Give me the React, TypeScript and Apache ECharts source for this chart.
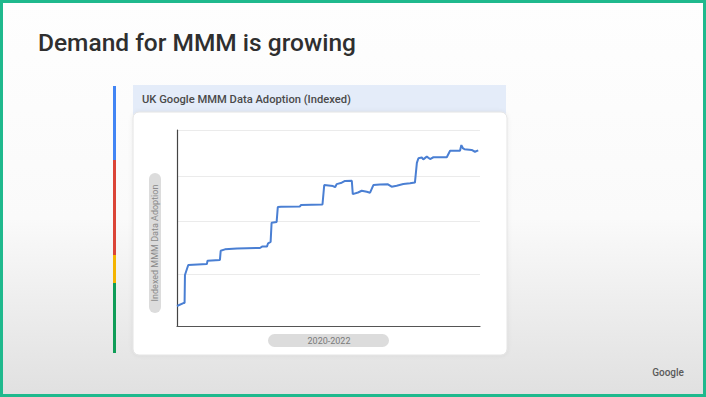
import React, { useEffect, useRef } from "react";
import * as echarts from "echarts";

const slideTitle = "Demand for MMM is growing";
const chartTitle = "UK Google MMM Data Adoption (Indexed)";
const yAxisName = "Indexed MMM Data Adoption";
const xAxisName = "2020-2022";
const footerBrand = "Google";

// week index over 2020-2022 (0..156)
const weeks = [0, 3.3, 3.9, 4.1, 5.8, 15.4, 15.7, 22.1, 22.5, 24.7, 30.9, 42.7, 43.8, 46.3, 46.9, 48.2, 48.7, 51.3, 51.9, 53.6, 63.3, 63.8, 74.9, 75.8, 80.3, 81.4, 82.2, 84.8, 86.5, 90.0, 90.5, 93.2, 95.1, 97.7, 99.4, 101.1, 104.5, 108.6, 110.5, 113.1, 116.5, 120.0, 122.5, 123.5, 124.3, 126.0, 126.8, 128.6, 130.3, 132.0, 138.9, 140.6, 145.7, 146.4, 147.3, 148.0, 151.7, 153.4, 155.1];
// indexed adoption
const adoption = [10.2, 11.7, 11.7, 26.0, 31.1, 31.6, 33.3, 33.7, 38.4, 39.1, 39.6, 39.8, 40.5, 40.5, 42.2, 42.9, 52.7, 53.1, 60.7, 60.9, 61.0, 61.7, 62.0, 71.9, 71.4, 70.8, 72.4, 73.1, 74.0, 74.1, 67.3, 68.1, 69.0, 68.5, 68.0, 71.9, 72.2, 72.3, 71.1, 71.6, 72.4, 72.8, 73.2, 83.2, 85.6, 86.0, 85.0, 86.4, 85.2, 86.1, 86.1, 89.4, 89.4, 92.3, 90.6, 90.2, 89.8, 88.9, 89.6];
// horizontal guide lines
const gridValues = [26.5, 53.6, 76.5, 100];

export default function App() {
  const ref = useRef<HTMLDivElement>(null);
  useEffect(() => {
    if (!ref.current) return;
    const chart = echarts.init(ref.current, null, { renderer: "svg" });
    const font = "Roboto, 'Open Sans', sans-serif";
    chart.setOption({
      animation: false,
      backgroundColor: {
        type: "linear", x: 0, y: 0, x2: 0, y2: 1,
        colorStops: [
          { offset: 0, color: "#fefefe" },
          { offset: 0.55, color: "#fafafa" },
          { offset: 1, color: "#e0e0e0" },
        ],
      },
      grid: { left: 177, top: 130, width: 303, height: 196, containLabel: false },
      xAxis: {
        type: "value", min: 0, max: 156, z: 10,
        axisLine: { show: true, lineStyle: { color: "#555", width: 1.2 } },
        axisTick: { show: false }, axisLabel: { show: false }, splitLine: { show: false },
      },
      yAxis: {
        type: "value", min: 0, max: 100, z: 10,
        axisLine: { show: true, lineStyle: { color: "#444", width: 1.2 } },
        axisTick: { show: false }, axisLabel: { show: false }, splitLine: { show: false },
      },
      series: [
        {
          type: "line", data: [], z: 9, silent: true,
          markLine: {
            silent: true, symbol: "none", label: { show: false },
            lineStyle: { color: "#ebebeb", width: 1, type: "solid" },
            data: gridValues.map((v) => ({ yAxis: v })),
          },
        },
        {
          type: "line", z: 12,
          data: weeks.map((w, i) => [w, adoption[i]]),
          showSymbol: false, symbol: "none",
          lineStyle: { color: "#4a7fd3", width: 2 },
        },
      ],
      graphic: [
        { type: "rect", z: -5, shape: { x: 1.5, y: 1.5, width: 703, height: 394 }, style: { fill: "none", stroke: "#1fb98d", lineWidth: 3 } },
        { type: "text", z: 1, x: 38, y: 42, style: { text: slideTitle, fill: "#2f2f2f", fontSize: 24.5, fontWeight: 500, fontFamily: font, textVerticalAlign: "middle" } },
        { type: "rect", z: 1, shape: { x: 113, y: 86, width: 3, height: 74 }, style: { fill: "#4285f4" } },
        { type: "rect", z: 1, shape: { x: 113, y: 160, width: 3, height: 95 }, style: { fill: "#db4437" } },
        { type: "rect", z: 1, shape: { x: 113, y: 255, width: 3, height: 28 }, style: { fill: "#f4b400" } },
        { type: "rect", z: 1, shape: { x: 113, y: 283, width: 3, height: 70 }, style: { fill: "#0f9d58" } },
        { type: "rect", z: 1, shape: { x: 133, y: 85, width: 373, height: 30 }, style: { fill: "#e4ecf9" } },
        { type: "text", z: 2, x: 142, y: 99, style: { text: chartTitle, fill: "#4a4a4a", fontSize: 11.2, fontWeight: 500, fontFamily: font, textVerticalAlign: "middle" } },
        { type: "rect", z: 2, shape: { x: 133, y: 112, width: 374, height: 243, r: 6 }, style: { fill: "#ffffff", stroke: "#e4e4e4", lineWidth: 1, shadowBlur: 4, shadowColor: "rgba(0,0,0,0.07)" } },
        { type: "rect", z: 3, shape: { x: 149, y: 173, width: 12, height: 140, r: 6 }, style: { fill: "#dcdcdc" } },
        { type: "text", z: 4, x: 155, y: 243, rotation: Math.PI / 2, style: { text: yAxisName, fill: "#8a8a8a", fontSize: 9, fontFamily: font, textAlign: "center", textVerticalAlign: "middle" } },
        { type: "rect", z: 3, shape: { x: 268, y: 334, width: 121, height: 13, r: 6.5 }, style: { fill: "#dcdcdc" } },
        { type: "text", z: 4, x: 329, y: 341, style: { text: xAxisName, fill: "#7a7a7a", fontSize: 9, fontFamily: font, textAlign: "center", textVerticalAlign: "middle" } },
        { type: "text", z: 1, x: 668, y: 372, style: { text: footerBrand, fill: "#5a5a5a", fontSize: 10, fontWeight: 500, fontFamily: font, textAlign: "center", textVerticalAlign: "middle" } },
      ],
    });
    return () => chart.dispose();
  }, []);
  return <div ref={ref} style={{ position: "fixed", left: 0, top: 0, width: 706, height: 397 }} />;
}
